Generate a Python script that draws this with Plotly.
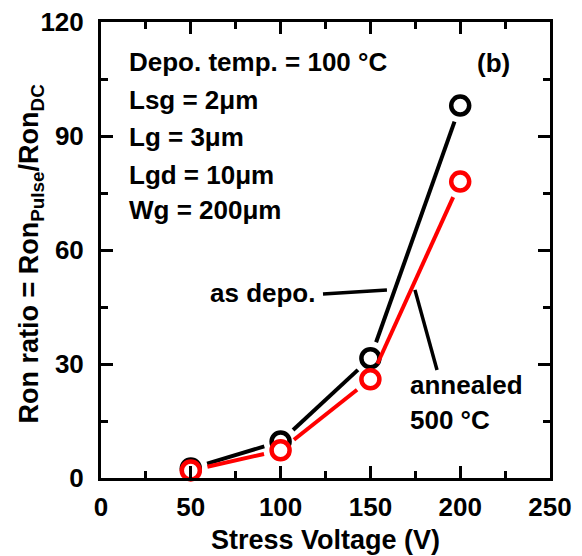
import math
import plotly.graph_objects as go

# Data
stress_voltage = [50, 100, 150, 200]
as_depo = [2.5, 9.6, 31.5, 98.0]
annealed_500 = [2.0, 7.3, 26.0, 78.0]

x_ticks = [0, 50, 100, 150, 200, 250]
y_ticks = [0, 30, 60, 90, 120]
x_range = [0, 250]
y_range = [0, 120]

FONT = "Liberation Sans"
BLACK = "#000000"
RED = "#ff0000"

W, H = 582, 556
M = dict(l=101, r=32, t=22, b=78)
PX_X = (W - M["l"] - M["r"]) / (x_range[1] - x_range[0])
PX_Y = (H - M["t"] - M["b"]) / (y_range[1] - y_range[0])
GAP_PX = 17  # line stops this many pixels from each marker centre


def gapped(xs, ys):
    """Line segments between consecutive points, shortened near each marker."""
    gx, gy = [], []
    for (xa, ya), (xb, yb) in zip(zip(xs, ys), zip(xs[1:], ys[1:])):
        dx, dy = (xb - xa) * PX_X, (yb - ya) * PX_Y
        L = math.hypot(dx, dy)
        f = GAP_PX / L
        gx += [xa + (xb - xa) * f, xb - (xb - xa) * f, None]
        gy += [ya + (yb - ya) * f, yb - (yb - ya) * f, None]
    return gx, gy


fig = go.Figure()


def add_series(y, color):
    gx, gy = gapped(stress_voltage, y)
    fig.add_trace(go.Scatter(x=gx, y=gy, mode="lines", line=dict(color=color, width=4),
                             cliponaxis=False, hoverinfo="skip", connectgaps=False))
    fig.add_trace(go.Scatter(x=stress_voltage, y=y, mode="markers",
                             marker=dict(symbol="circle", size=18, color="white",
                                         line=dict(width=4.5, color=color)),
                             cliponaxis=False))


add_series(as_depo, BLACK)
add_series(annealed_500, RED)

axis_common = dict(
    showgrid=False, zeroline=False, showline=True, linecolor="black", linewidth=3,
    mirror="ticks", ticks="inside", ticklen=12, tickwidth=3, tickcolor="black",
    tickfont=dict(family=FONT, size=26, color="black", weight="bold"),
    automargin=False,
)

fig.update_xaxes(range=x_range, tickvals=x_ticks, ticktext=[str(v) for v in x_ticks],
                 minor=dict(ticks="inside", ticklen=7, tickwidth=3, tickcolor="black", dtick=25, tick0=0),
                 ticklabelstandoff=4, **axis_common)
fig.update_yaxes(range=y_range, tickvals=y_ticks, ticktext=[str(v) for v in y_ticks],
                 minor=dict(ticks="inside", ticklen=7, tickwidth=3, tickcolor="black", dtick=15, tick0=0),
                 ticklabelstandoff=9, **axis_common)

title_font = dict(family=FONT, size=27, color="black", weight="bold")
fig.add_annotation(xref="paper", yref="paper", x=0.5, y=-0.136, text="Stress Voltage (V)",
                   showarrow=False, xanchor="center", yanchor="middle", font=title_font)
fig.add_annotation(xref="paper", yref="paper", x=-0.155, y=0.493,
                   text="Ron ratio = Ron<sub>Pulse</sub>/Ron<sub>DC</sub>", textangle=-90,
                   showarrow=False, xanchor="center", yanchor="middle", font=title_font)

txt_font = dict(family=FONT, size=26, color="black", weight="bold")
info_lines = ["Depo. temp. = 100 °C", "Lsg = 2μm", "Lg = 3μm", "Lgd = 10μm", "Wg = 200μm"]
info_y = [109.5, 99.5, 89.7, 79.7, 70.5]
for t, yy in zip(info_lines, info_y):
    fig.add_annotation(x=14.5, y=yy, text=t, showarrow=False, xanchor="left", yanchor="middle", font=txt_font)

fig.add_annotation(x=218.3, y=109.2, text="(b)", showarrow=False, xanchor="center", yanchor="middle", font=txt_font)
fig.add_annotation(x=120.3, y=48.7, text="as depo.", showarrow=False, xanchor="right", yanchor="middle", font=txt_font)
fig.add_annotation(x=170.9, y=24.5, text="annealed", showarrow=False, xanchor="left", yanchor="middle", font=txt_font)
fig.add_annotation(x=170.9, y=15.3, text="500 °C", showarrow=False, xanchor="left", yanchor="middle", font=txt_font)

fig.add_shape(type="line", xref="x", yref="y", x0=123.6, y0=48.4, x1=159.2, y1=49.5,
              line=dict(color="black", width=3.5))
fig.add_shape(type="line", xref="x", yref="y", x0=174.8, y0=49.5, x1=187.1, y1=28.4,
              line=dict(color="black", width=3.5))

fig.update_layout(
    width=W, height=H,
    margin=M,
    paper_bgcolor="white", plot_bgcolor="white",
    showlegend=False,
)

fig.write_html("out.html")
